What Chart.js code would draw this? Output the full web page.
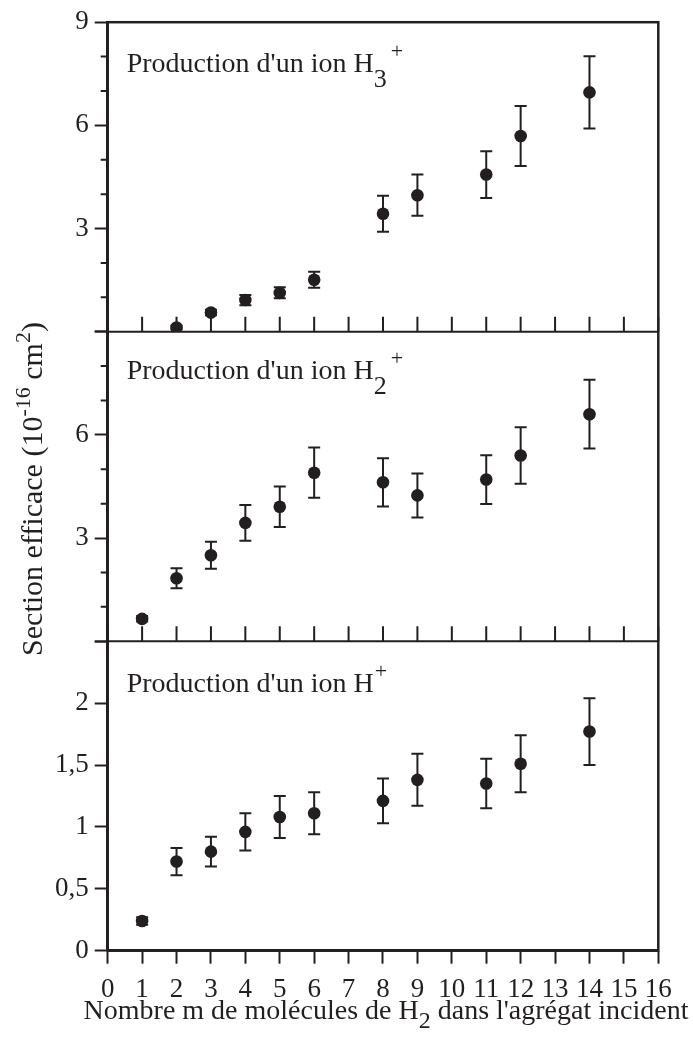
<!DOCTYPE html>
<html>
<head>
<meta charset="utf-8">
<script src="https://cdn.jsdelivr.net/npm/chart.js@4/dist/chart.umd.min.js"></script>
<style>
  html, body { margin: 0; padding: 0; background: #fff; }
  #wrap { width: 693px; height: 1040px; position: relative; }
</style>
</head>
<body>
<div id="wrap"><canvas id="chart"></canvas></div>
<script>
// nombre m de molecules H2 dans l'agregat
const mAll = [1, 2, 3, 4, 5, 6, 8, 9, 11, 12, 14];
const mH3 = [2, 3, 4, 5, 6, 8, 9, 11, 12, 14]; // pas de point a m = 1

// sections efficaces (10^-16 cm2) et barres d'erreur (+/-)
const ionH3 = [0.12, 0.56, 0.92, 1.13, 1.51, 3.43, 3.97, 4.57, 5.69, 6.96];
const errH3 = [0.05, 0.08, 0.15, 0.16, 0.23, 0.52, 0.60, 0.68, 0.87, 1.05];
const ionH2 = [0.65, 1.83, 2.50, 3.44, 3.91, 4.90, 4.62, 4.24, 4.70, 5.40, 6.60];
const errH2 = [0.08, 0.29, 0.39, 0.52, 0.59, 0.73, 0.70, 0.64, 0.71, 0.82, 1.00];
const ionH1 = [0.24, 0.72, 0.80, 0.96, 1.08, 1.11, 1.21, 1.38, 1.35, 1.51, 1.77];
const errH1 = [0.03, 0.11, 0.12, 0.15, 0.17, 0.17, 0.18, 0.21, 0.20, 0.23, 0.27];

const xTicks = [0, 1, 2, 3, 4, 5, 6, 7, 8, 9, 10, 11, 12, 13, 14, 15, 16];
const yTicksH3 = [0, 3, 6, 9];
const yTicksH2 = [0, 3, 6, 9];
const yTicksH1 = [0, 0.5, 1, 1.5, 2, 2.5];

const titles = [
  { axis: 'yH3', text: "Production d'un ion H", sub: '3', sup: '+', dy: 50 },
  { axis: 'yH2', text: "Production d'un ion H", sub: '2', sup: '+', dy: 47 },
  { axis: 'yH1', text: "Production d'un ion H", sub: '', sup: '+', dy: 51 }
];
const xTitle = ["Nombre m de molécules de H", "2", " dans l'agrégat incident"];
const yTitle = ["Section efficace (10", "-16", " cm", "2", ")"];

const ink = '#231f20';
const serif = 'Liberation Serif';

function pts(xs, ys) {
  return xs.map((x, i) => ({ x: x, y: ys[i] }));
}

function yAxis(max, values, hidden) {
  return {
    type: 'linear',
    position: 'left',
    stack: 'panels',
    stackWeight: 1,
    min: 0,
    max: max,
    afterBuildTicks: s => { s.ticks = values.map(v => ({ value: v })); },
    ticks: {
      color: ink,
      font: { family: serif, size: 27 },
      padding: 6,
      autoSkip: false,
      callback: v => hidden.includes(v) ? '' : String(v).replace('.', ',')
    },
    grid: { drawOnChartArea: false, tickLength: 13, tickWidth: 2, tickColor: ink },
    border: { display: true, width: 2.5, color: ink },
    afterFit: s => { s.width = 107.7; }
  };
}

const errorBars = {
  id: 'errorBars',
  afterDatasetsDraw(chart) {
    const ctx = chart.ctx;
    const xs = chart.scales.x;
    ctx.save();
    ctx.strokeStyle = ink;
    ctx.lineWidth = 2;
    chart.data.datasets.forEach(ds => {
      const ys = chart.scales[ds.yAxisID];
      ds.data.forEach((p, i) => {
        const e = ds.err[i];
        const px = xs.getPixelForValue(p.x);
        const y1 = ys.getPixelForValue(p.y + e);
        const y2 = ys.getPixelForValue(p.y - e);
        ctx.beginPath();
        ctx.moveTo(px, y1); ctx.lineTo(px, y2);
        ctx.moveTo(px - 6, y1); ctx.lineTo(px + 6, y1);
        ctx.moveTo(px - 6, y2); ctx.lineTo(px + 6, y2);
        ctx.stroke();
      });
    });
    ctx.restore();
  }
};

function drawParts(ctx, parts, x, y) {
  parts.forEach(p => {
    if (!p.t) return;
    ctx.font = p.size + 'px "' + serif + '"';
    ctx.fillText(p.t, x + (p.dx || 0), y + (p.dy || 0));
    x += (p.dx || 0) + ctx.measureText(p.t).width;
  });
  return x;
}
function partsWidth(ctx, parts) {
  let w = 0;
  parts.forEach(p => {
    if (!p.t) return;
    ctx.font = p.size + 'px "' + serif + '"';
    w += (p.dx || 0) + ctx.measureText(p.t).width;
  });
  return w;
}

const frame = {
  id: 'frame',
  afterDraw(chart) {
    const ctx = chart.ctx;
    const area = chart.chartArea;
    const xs = chart.scales.x;
    ctx.save();
    ctx.strokeStyle = ink;
    ctx.fillStyle = ink;

    // separations et graduations interieures
    ctx.lineWidth = 2;
    ['yH3', 'yH2'].forEach(id => {
      const s = chart.scales[id];
      ctx.beginPath();
      ctx.moveTo(area.left, s.bottom); ctx.lineTo(area.right, s.bottom);
      xTicks.forEach(t => {
        const px = xs.getPixelForValue(t);
        ctx.moveTo(px, s.bottom); ctx.lineTo(px, s.bottom - 15);
      });
      // graduations secondaires en y
      for (let v = 1; v < 9; v++) {
        if (v % 3 === 0) continue;
        const py = s.getPixelForValue(v);
        ctx.moveTo(area.left - 7, py); ctx.lineTo(area.left, py);
      }
      ctx.stroke();
    });

    ctx.lineWidth = 2.5;
    ctx.strokeRect(area.left, area.top, area.right - area.left, area.bottom - area.top);

    // titres des panneaux
    ctx.textBaseline = 'alphabetic';
    ctx.textAlign = 'left';
    titles.forEach(t => {
      const s = chart.scales[t.axis];
      drawParts(ctx, [
        { t: t.text, size: 28 },
        { t: t.sub, size: 26, dy: 15 },
        { t: t.sup, size: 22, dy: -14, dx: t.sub ? 4 : 1 }
      ], area.left + 19, s.top + t.dy);
    });

    // titre de l'axe x
    const xp = [
      { t: xTitle[0], size: 28 },
      { t: xTitle[1], size: 24, dy: 9 },
      { t: xTitle[2], size: 28 }
    ];
    const xw = partsWidth(ctx, xp);
    drawParts(ctx, xp, 386 - xw / 2, 1019);

    // titre de l'axe y
    const yp = [
      { t: yTitle[0], size: 30 },
      { t: yTitle[1], size: 22, dy: -12 },
      { t: yTitle[2], size: 30 },
      { t: yTitle[3], size: 22, dy: -12 },
      { t: yTitle[4], size: 30 }
    ];
    const yw = partsWidth(ctx, yp);
    ctx.translate(42, 489);
    ctx.rotate(-Math.PI / 2);
    drawParts(ctx, yp, -yw / 2, 0);
    ctx.restore();
  }
};

const pointStyle = {
  showLine: false,
  pointRadius: 6.3,
  pointHoverRadius: 6.3,
  pointBackgroundColor: ink,
  pointBorderWidth: 0,
  backgroundColor: ink
};

new Chart(document.getElementById('chart'), {
  type: 'scatter',
  data: {
    datasets: [
      Object.assign({ label: 'H+', yAxisID: 'yH1', data: pts(mAll, ionH1), err: errH1 }, pointStyle),
      Object.assign({ label: 'H2+', yAxisID: 'yH2', data: pts(mAll, ionH2), err: errH2 }, pointStyle),
      Object.assign({ label: 'H3+', yAxisID: 'yH3', data: pts(mH3, ionH3), err: errH3 }, pointStyle)
    ]
  },
  options: {
    responsive: true,
    maintainAspectRatio: false,
    animation: false,
    events: [],
    layout: { padding: { left: 0, top: 16, right: 34.7, bottom: 0 } },
    plugins: { legend: { display: false }, tooltip: { enabled: false } },
    scales: {
      x: {
        type: 'linear',
        position: 'bottom',
        min: 0,
        max: 16,
        afterBuildTicks: s => { s.ticks = xTicks.map(v => ({ value: v })); },
        ticks: {
          color: ink,
          font: { family: serif, size: 27 },
          padding: 10,
          autoSkip: false,
          maxRotation: 0,
          minRotation: 0
        },
        grid: { drawOnChartArea: false, tickLength: 13, tickWidth: 2, tickColor: ink },
        border: { display: true, width: 2.5, color: ink },
        afterFit: s => { s.height = 89.3; }
      },
      yH1: yAxis(2.5, yTicksH1, [2.5]),
      yH2: yAxis(9, yTicksH2, [0, 9]),
      yH3: yAxis(9, yTicksH3, [0])
    }
  },
  plugins: [errorBars, frame]
});
</script>
</body>
</html>
